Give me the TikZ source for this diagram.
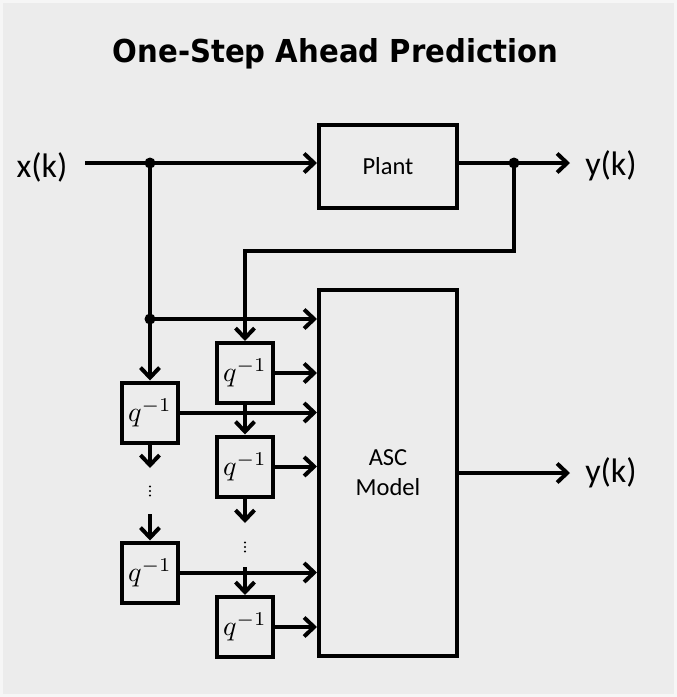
\documentclass[tikz,border=0pt]{standalone}
\usepackage{fontspec}
\setmainfont{Carlito}
\newfontfamily\titlefont{DejaVu Sans}
\usetikzlibrary{arrows.meta}
\definecolor{bgcol}{HTML}{ECECEC}
\definecolor{framecol}{HTML}{F6F6F6}
\newcommand{\qinv}{\scalebox{2.8}{$q^{-1}$}}
\begin{document}
\begin{tikzpicture}[x=1pt,y=-1pt,
  line width=4pt,
  blk/.style={draw, line width=4pt, fill=bgcol, inner sep=0pt, minimum width=#1},
  qbox/.style={draw, line width=4pt, fill=bgcol, inner sep=0pt, minimum width=56pt, minimum height=60pt},
  arr/.style={-{Straight Barb[length=10pt,width=19pt,line width=4pt]}, line width=4pt},
  ln/.style={line width=4pt},
  dot/.style={circle, fill=black, inner sep=0pt, minimum size=11pt},
  lbl/.style={font=\fontsize{34}{40}\selectfont, inner sep=0pt},
  vd/.style={inner sep=0pt, minimum width=10pt},
  smalldot/.style={fill=black}
]
\useasboundingbox (0,0) rectangle (677,697);
\fill[framecol] (0,0) rectangle (677,697);
\fill[bgcol] (3,3) rectangle (674,694);

% title
\node[anchor=base, inner sep=0pt] (title) at (335.5,62)
  {\resizebox{445pt}{24pt}{\titlefont\bfseries One-Step Ahead Prediction}};

% blocks
\node[blk=138pt, minimum height=83pt, font=\fontsize{24.5}{28}\selectfont] (plant) at (388,166.5) {Plant};
\node[blk=138pt, minimum height=366pt, font=\fontsize{24.5}{30}\selectfont, align=center] (asc) at (388,473) {ASC\\Model};

\node[qbox] (q11) at (150,412.5) {\qinv};
\node[qbox] (q12) at (150,572.5) {\qinv};
\node[qbox] (q21) at (245,373) {\qinv};
\node[qbox] (q22) at (245,466.5) {\qinv};
\node[qbox] (q23) at (245,627) {\qinv};

\node[vd, minimum height=42pt] (d1) at (150,491) {};
\node[vd, minimum height=40pt] (d2) at (245,545) {};
\foreach \d/\dy in {d1/0, d2/2} {
  \fill[smalldot] ([yshift=-\dy pt]\d.center) circle (1.2pt);
  \fill[smalldot] ([yshift=-\dy pt-4.5pt]\d.center) circle (1.2pt);
  \fill[smalldot] ([yshift=-\dy pt+4.5pt]\d.center) circle (1.2pt);
}

% labels
\node[lbl, anchor=base] (xk) at (42,177) {x(k)};
\node[lbl, anchor=base] (yk1) at (611,175) {y(k)};
\node[lbl, anchor=base] (yk2) at (611,482) {y(k)};

% coordinates
\coordinate (xs) at (85,163);
\coordinate (j1) at (150,163);
\coordinate (j2) at (150,319);
\coordinate (j3) at (514,163);
\coordinate (fb) at (245,251);
\coordinate (t1) at (570,163);
\coordinate (t2) at (570,473);

% connectors
\draw[ln] (xs) -- (j1);
\draw[arr] (j1) -- (j1 -| plant.west);
\draw[ln] (j1) -- (j2);
\draw[arr] (j2) -- (q11.north);
\draw[arr] (j2) -- (j2 -| asc.west);

\draw[ln] (j1 -| plant.east) -- (j3);
\draw[arr] (j3) -- (t1);
\draw[arr] (j3) |- (fb) -- (q21.north);

\draw[arr] (q21.east) -- (q21.east -| asc.west);
\draw[arr] (q21.south) -- (q22.north);
\draw[arr] (q22.east) -- (q22.east -| asc.west);
\draw[arr] (q22.south) -- (d2.north);
\draw[arr] (d2.south) -- (q23.north);
\draw[arr] (q23.east) -- (q23.east -| asc.west);

\draw[arr] (q11.east) -- (q11.east -| asc.west);
\draw[arr] (q11.south) -- (d1.north);
\draw[arr] (d1.south) -- (q12.north);
\draw[arr] (q12.east) -- (q12.east -| asc.west);

\draw[arr] (asc.east |- t2) -- (t2);

\node[dot] at (j1) {};
\node[dot] at (j2) {};
\node[dot] at (j3) {};
\end{tikzpicture}
\end{document}
